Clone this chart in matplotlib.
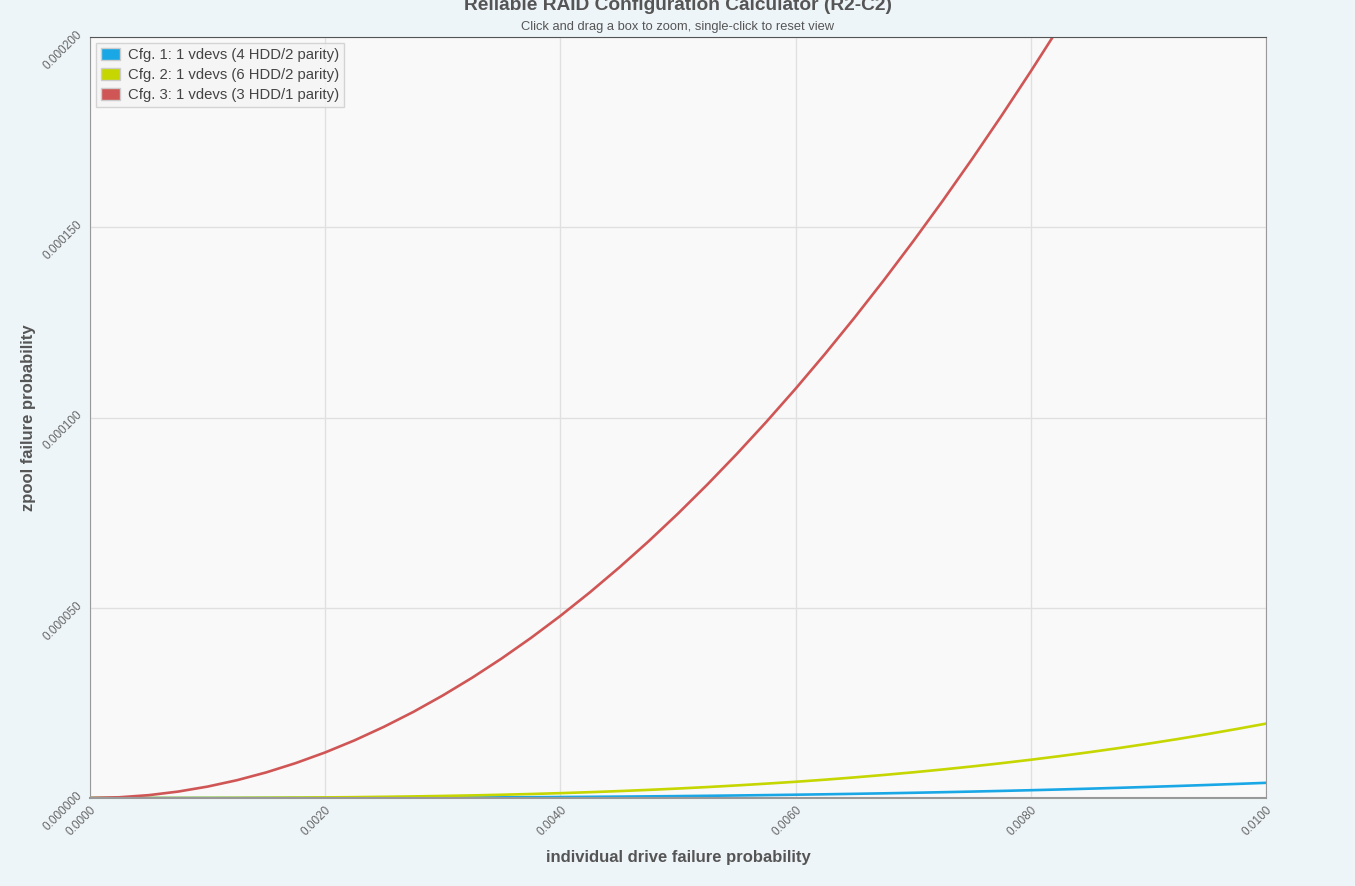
import matplotlib
matplotlib.use("Agg")
import matplotlib.pyplot as plt
import matplotlib.patches as mpatches

# individual drive failure probability (x), read every 0.00025
x_vals = [0.0, 0.00025, 0.0005, 0.00075, 0.0010, 0.00125, 0.0015, 0.00175, 0.0020, 0.00225,
          0.0025, 0.00275, 0.0030, 0.00325, 0.0035, 0.00375, 0.0040, 0.00425, 0.0045, 0.00475,
          0.0050, 0.00525, 0.0055, 0.00575, 0.0060, 0.00625, 0.0065, 0.00675, 0.0070, 0.00725,
          0.0075, 0.00775, 0.0080, 0.00825, 0.0085, 0.00875, 0.0090, 0.00925, 0.0095, 0.00975,
          0.0100]
# zpool failure probability per config
cfg1 = [0.0, 6e-11, 5e-10, 1.7e-9, 4.0e-9, 7.8e-9, 1.35e-8, 2.14e-8, 3.2e-8, 4.56e-8,
        6.25e-8, 8.32e-8, 1.08e-7, 1.37e-7, 1.72e-7, 2.11e-7, 2.56e-7, 3.07e-7, 3.64e-7, 4.29e-7,
        5.0e-7, 5.79e-7, 6.65e-7, 7.6e-7, 8.64e-7, 9.76e-7, 1.098e-6, 1.23e-6, 1.371e-6, 1.524e-6,
        1.687e-6, 1.861e-6, 2.047e-6, 2.245e-6, 2.455e-6, 2.677e-6, 2.912e-6, 3.161e-6, 3.423e-6, 3.698e-6,
        3.987e-6]
cfg2 = [0.0, 3e-10, 2.5e-9, 8.4e-9, 2.0e-8, 3.9e-8, 6.7e-8, 1.07e-7, 1.6e-7, 2.28e-7,
        3.12e-7, 4.15e-7, 5.39e-7, 6.85e-7, 8.55e-7, 1.052e-6, 1.276e-6, 1.531e-6, 1.816e-6, 2.135e-6,
        2.489e-6, 2.879e-6, 3.307e-6, 3.775e-6, 4.262e-6, 4.814e-6, 5.413e-6, 6.058e-6, 6.752e-6, 7.498e-6,
        8.295e-6, 9.148e-6, 1.0056e-5, 1.1022e-5, 1.2048e-5, 1.3134e-5, 1.4285e-5, 1.55e-5, 1.6782e-5, 1.8131e-5,
        1.955e-5]
cfg3 = [0.0, 1.9e-7, 7.5e-7, 1.69e-6, 3.0e-6, 4.68e-6, 6.74e-6, 9.18e-6, 1.198e-5, 1.516e-5,
        1.872e-5, 2.264e-5, 2.695e-5, 3.162e-5, 3.666e-5, 4.208e-5, 4.787e-5, 5.403e-5, 6.057e-5, 6.747e-5,
        7.475e-5, 8.24e-5, 9.042e-5, 9.881e-5, 1.0757e-4, 1.167e-4, 1.262e-4, 1.3607e-4, 1.4631e-4, 1.5692e-4,
        1.6791e-4, 1.7926e-4, 1.9098e-4, 2.0307e-4, 2.1553e-4, 2.2836e-4, 2.4155e-4, 2.5511e-4, 2.6904e-4, 2.8333e-4,
        2.98e-4]

labels = ["Cfg. 1: 1 vdevs (4 HDD/2 parity)",
          "Cfg. 2: 1 vdevs (6 HDD/2 parity)",
          "Cfg. 3: 1 vdevs (3 HDD/1 parity)"]
colors = ["#1aa7e6", "#c5d600", "#d05656"]
x_ticks = [0.0, 0.002, 0.004, 0.006, 0.008, 0.010]
y_ticks = [0.0, 0.00005, 0.0001, 0.00015, 0.0002]

plt.rcParams['font.family'] = ['Liberation Sans', 'DejaVu Sans']

fig = plt.figure(figsize=(13.55, 8.86), dpi=100, facecolor="#eef5f8")
ax = fig.add_axes([90 / 1355, 88 / 886, 1176 / 1355, 761 / 886])
ax.set_facecolor("#f9f9f9")

for ys, c in zip([cfg1, cfg2, cfg3], colors):
    ax.plot(x_vals, ys, color=c, lw=1.9, solid_capstyle="round")

ax.set_xlim(0, 0.01)
ax.set_ylim(0, 0.0002)
ax.set_xticks(x_ticks)
ax.set_yticks(y_ticks)
ax.set_xticklabels([f"{v:.4f}" for v in x_ticks], rotation=45, ha="right", va="top",
                   rotation_mode="anchor", fontsize=8.5, color="#666666")
ax.set_yticklabels([f"{v:.6f}" for v in y_ticks], rotation=45, ha="right", va="bottom",
                   rotation_mode="anchor", fontsize=8.5, color="#666666")
ax.tick_params(length=0, pad=4)
ax.grid(True, color="#e0e0e0", lw=1)
ax.set_axisbelow(True)
for side in ["left", "bottom", "right"]:
    ax.spines[side].set_color("#999999")
ax.spines["top"].set_color("#555555")
ax.spines["bottom"].set_linewidth(1.5)

ax.set_xlabel("individual drive failure probability", fontsize=12, fontweight="bold",
              color="#555555")
ax.set_ylabel("zpool failure probability", fontsize=12, fontweight="bold",
              color="#555555")
ax.xaxis.set_label_coords(0.5, -0.068)
ax.yaxis.set_label_coords(-0.046, 0.5)

fig.text(0.5, 1 - 6 / 886, "Reliable RAID Configuration Calculator (R2-C2)", ha="center",
         va="center", fontsize=13.8, fontweight="bold", color="#555555")
fig.text(0.5, 1 - 27 / 886, "Click and drag a box to zoom, single-click to reset view",
         ha="center", va="center", fontsize=9.3, color="#555555")

handles = [mpatches.Patch(facecolor=c, edgecolor="#cccccc", label=l) for c, l in zip(colors, labels)]
leg = ax.legend(handles=handles, loc="upper left", bbox_to_anchor=(0.005, 0.992), fontsize=10.7,
                frameon=True, fancybox=False, borderpad=0.35, handlelength=1.3, handleheight=0.85,
                handletextpad=0.5, labelspacing=0.38, borderaxespad=0)
leg.get_frame().set_edgecolor("#cccccc")
leg.get_frame().set_facecolor("#f5f5f5")
for t in leg.get_texts():
    t.set_color("#444444")

fig.savefig("out.png", dpi=100, facecolor=fig.get_facecolor())
